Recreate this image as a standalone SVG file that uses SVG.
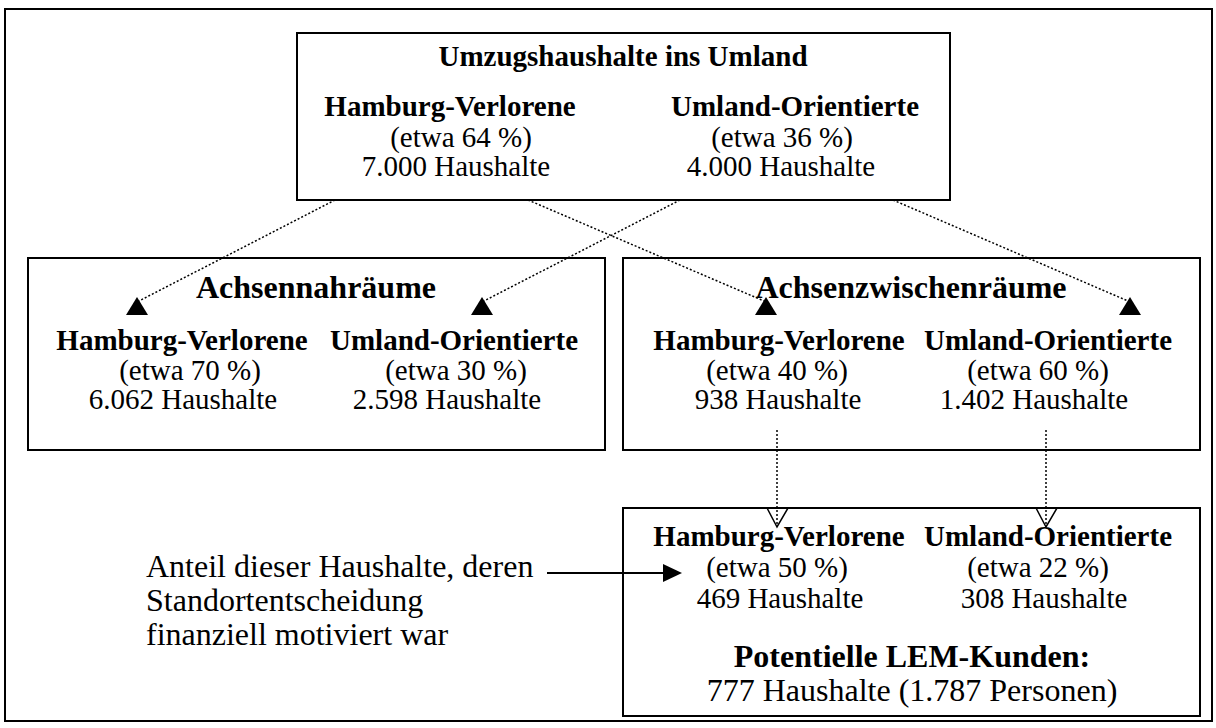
<svg xmlns="http://www.w3.org/2000/svg" width="1216" height="728" viewBox="0 0 1216 728">
<style>
.box{fill:#fff;stroke:#000;stroke-width:2}
.t{font-family:"Liberation Serif","Times New Roman",serif;fill:#000;text-anchor:middle}
.b{font-weight:bold}
.s29{font-size:29px}
.s32{font-size:32px}
.dot{stroke:#000;stroke-width:1.5;stroke-dasharray:2 2;fill:none}
.head{fill:#000;stroke:none}
.open{fill:none;stroke:#000;stroke-width:1.5}
</style>
<rect x="0" y="0" width="1216" height="728" fill="#fff"/>
<rect id="frame" x="5" y="9" width="1207" height="712" fill="none" stroke="#000" stroke-width="2"/>

<g id="node-top">
<rect class="box" x="297" y="33" width="653" height="167"/>
<text class="t b s29" x="623" y="66">Umzugshaushalte ins Umland</text>
<text class="t b s29" x="450" y="116">Hamburg-Verlorene</text>
<text class="t s29" x="461" y="147">(etwa 64 %)</text>
<text class="t s29" x="456" y="176">7.000 Haushalte</text>
<text class="t b s29" x="795" y="116">Umland-Orientierte</text>
<text class="t s29" x="782" y="147">(etwa 36 %)</text>
<text class="t s29" x="781" y="176">4.000 Haushalte</text>
</g>

<g id="node-achsennah">
<rect class="box" x="28" y="258" width="577" height="192"/>
<text class="t b s32" x="316" y="298">Achsennahräume</text>
<text class="t b s29" x="182" y="350">Hamburg-Verlorene</text>
<text class="t s29" x="190" y="380">(etwa 70 %)</text>
<text class="t s29" x="183" y="409">6.062 Haushalte</text>
<text class="t b s29" x="454" y="350">Umland-Orientierte</text>
<text class="t s29" x="456" y="380">(etwa 30 %)</text>
<text class="t s29" x="447" y="409">2.598 Haushalte</text>
</g>

<g id="node-achsenzwischen">
<rect class="box" x="623" y="258" width="577" height="192"/>
<text class="t b s32" x="911" y="298">Achsenzwischenräume</text>
<text class="t b s29" x="779" y="350">Hamburg-Verlorene</text>
<text class="t s29" x="777" y="380">(etwa 40 %)</text>
<text class="t s29" x="778" y="409">938 Haushalte</text>
<text class="t b s29" x="1048" y="350">Umland-Orientierte</text>
<text class="t s29" x="1038" y="380">(etwa 60 %)</text>
<text class="t s29" x="1034" y="409">1.402 Haushalte</text>
</g>

<g id="node-lem">
<rect class="box" x="623" y="508" width="577" height="208"/>
<text class="t b s29" x="779" y="546">Hamburg-Verlorene</text>
<text class="t s29" x="777" y="577">(etwa 50 %)</text>
<text class="t s29" x="780" y="608">469 Haushalte</text>
<text class="t b s29" x="1048" y="546">Umland-Orientierte</text>
<text class="t s29" x="1038" y="577">(etwa 22 %)</text>
<text class="t s29" x="1044" y="608">308 Haushalte</text>
<text class="t b s32" x="912" y="667">Potentielle LEM-Kunden:</text>
<text class="t s32" x="912" y="701">777 Haushalte (1.787 Personen)</text>
</g>

<g id="annotation">
<text class="t s32" style="text-anchor:start" x="146" y="577">Anteil dieser Haushalte, deren</text>
<text class="t s32" style="text-anchor:start" x="146" y="611">Standortentscheidung</text>
<text class="t s32" style="text-anchor:start" x="146" y="645">finanziell motiviert war</text>
</g>

<g id="connectors">
<line class="dot" x1="335" y1="200" x2="139" y2="301"/>
<polygon class="head" points="137,297 126,315 148,315"/>
<line class="dot" x1="680" y1="200" x2="484" y2="301"/>
<polygon class="head" points="482,297 471,315 493,315"/>
<line class="dot" x1="528" y1="200" x2="764" y2="301"/>
<polygon class="head" points="766,297 755,315 777,315"/>
<line class="dot" x1="893" y1="200" x2="1128" y2="301"/>
<polygon class="head" points="1130,297 1119,315 1141,315"/>
<line class="dot" x1="777" y1="430" x2="777" y2="526"/>
<polyline class="open" points="767,508 777,527 788,508"/>
<line class="dot" x1="1046" y1="430" x2="1046" y2="526"/>
<polyline class="open" points="1036,508 1046,527 1057,508"/>
<line x1="547" y1="573" x2="665" y2="573" stroke="#000" stroke-width="2"/>
<polygon class="head" points="663,564 682,573 663,582"/>
</g>
</svg>
